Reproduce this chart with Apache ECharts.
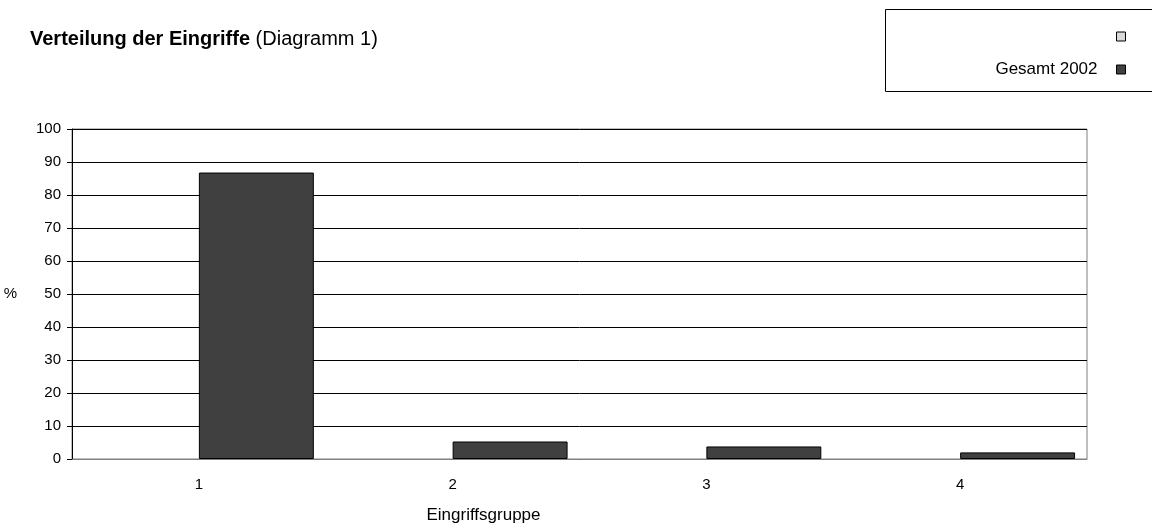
<!DOCTYPE html>
<html>
<head>
<meta charset="utf-8">
<script src="https://cdn.jsdelivr.net/npm/echarts@6/dist/echarts.min.js"></script>
<style>html,body{margin:0;padding:0;background:#fff}#c{width:1152px;height:529px}</style>
</head>
<body>
<div id="c"></div>
<script>
const categories = ['1', '2', '3', '4'];
const seriesNames = [' ', 'Gesamt 2002'];
const valuesEmpty = [null, null, null, null];
const valuesGesamt = [86.8, 5.3, 3.8, 2.0];
const yTicks = [0, 10, 20, 30, 40, 50, 60, 70, 80, 90, 100];

const FONT = '"Liberation Sans", Arial, sans-serif';
const chart = echarts.init(document.getElementById('c'));
chart.setOption({
  animation: false,
  textStyle: { fontFamily: FONT, color: '#000' },
  title: {
    text: '{b|Verteilung der Eingriffe} (Diagramm 1)',
    left: 30, top: 29, padding: 0,
    textStyle: {
      fontFamily: FONT, fontSize: 20, fontWeight: 'normal', color: '#000',
      rich: { b: { fontFamily: FONT, fontSize: 20, fontWeight: 'bold', color: '#000' } }
    }
  },
  graphic: [{
    type: 'rect', silent: true,
    shape: { x: 885.5, y: 9.5, width: 300, height: 82 },
    style: { fill: 'none', stroke: '#000', lineWidth: 1 }
  }],
  legend: {
    data: seriesNames.map(n => ({ name: n, icon: 'rect' })),
    orient: 'vertical', align: 'right',
    right: 26, top: 28, padding: 0,
    itemWidth: 9, itemHeight: 9, itemGap: 16,
    textStyle: { fontFamily: FONT, fontSize: 17, color: '#000', padding: [0, 14, 0, 0] },
    itemStyle: { borderColor: '#000', borderWidth: 1 }
  },
  grid: { left: 72, right: 65, top: 129, bottom: 64, show: true, borderColor: '#808080', borderWidth: 1 },
  xAxis: {
    type: 'category', data: categories,
    name: 'Eingriffsgruppe', nameLocation: 'middle', nameGap: 48,
    nameTextStyle: { fontFamily: FONT, fontSize: 17, color: '#000', padding: [0, 192, 0, 0] },
    axisLine: { lineStyle: { color: '#808080' } },
    axisTick: { show: false },
    axisLabel: { fontFamily: FONT, fontSize: 15, color: '#000', margin: 18 }
  },
  yAxis: {
    type: 'value', min: 0, max: 100, interval: 10,
    name: '%', nameLocation: 'middle', nameGap: 55, nameRotate: 0,
    nameTextStyle: { fontFamily: FONT, fontSize: 15, color: '#000', padding: [0, 0, 18, 0] },
    axisLine: { show: true, lineStyle: { color: '#000' } },
    axisTick: { show: true, length: 5, lineStyle: { color: '#000' } },
    axisLabel: { fontFamily: FONT, fontSize: 15, color: '#000', margin: 11,
      formatter: v => yTicks.includes(v) ? String(v) : '' },
    splitLine: { show: true, lineStyle: { color: '#000', width: 1 } }
  },
  series: [
    { name: seriesNames[0], type: 'bar', data: valuesEmpty, barGap: '0%', barCategoryGap: '9.4%',
      itemStyle: { color: '#d9d9d9', borderColor: '#000', borderWidth: 1 } },
    { name: seriesNames[1], type: 'bar', data: valuesGesamt, barGap: '0%', barCategoryGap: '9.4%',
      itemStyle: { color: '#404040', borderColor: '#000', borderWidth: 1 } }
  ]
});
</script>
</body>
</html>
